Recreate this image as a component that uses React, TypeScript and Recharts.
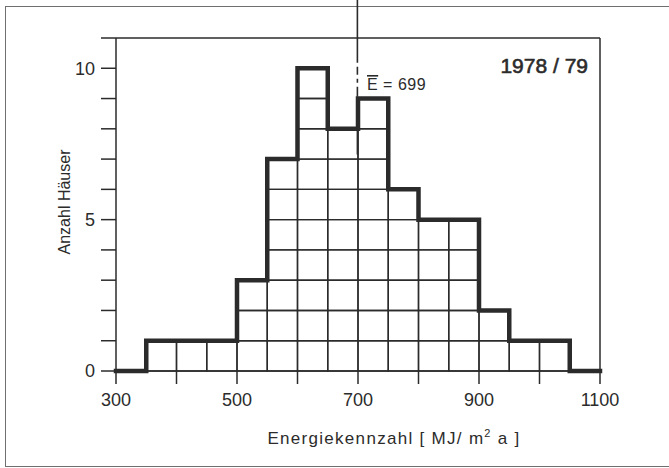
import React from "react";
import {
  ComposedChart,
  Line,
  XAxis,
  YAxis,
  ReferenceArea,
  ReferenceLine,
} from "recharts";

// Histogram: Energiekennzahl of houses, season 1978/79
const binStarts = [300, 350, 400, 450, 500, 550, 600, 650, 700, 750, 800, 850, 900, 950, 1000, 1050];
const counts = [0, 1, 1, 1, 3, 7, 10, 8, 9, 6, 5, 5, 2, 1, 1, 0];
const binWidth = 50;
const xTicks = [300, 400, 500, 600, 700, 800, 900, 1000, 1100];
const xTickLabels = [300, 500, 700, 900, 1100];
const yTicks = [0, 1, 2, 3, 4, 5, 6, 7, 8, 9, 10, 11];
const yTickLabels = [0, 5, 10];
const meanE = 699;
const meanLineBottom = 7.15;
const meanLineTop = 12.3;

const ink = "#2b2b2b";
const font = "'Liberation Sans', Arial, sans-serif";

// step outline: one point per bin left edge plus the closing edge
const outline = [
  ...binStarts.map((x, i) => ({ x, y: counts[i] })),
  { x: binStarts[binStarts.length - 1] + binWidth, y: 0 },
];

// unit cells inside every bar
const cells: { x1: number; x2: number; y1: number; y2: number }[] = [];
binStarts.forEach((x, i) => {
  for (let k = 0; k < counts[i]; k++) {
    cells.push({ x1: x, x2: x + binWidth, y1: k, y2: k + 1 });
  }
});

export default function App() {
  return (
    <div style={{ position: "absolute", left: 0, top: 0, width: 669, height: 468, background: "#fff", overflow: "hidden" }}>
      <div
        style={{
          position: "absolute",
          left: 5,
          top: 6,
          width: 700,
          height: 459,
          border: "1.5px solid #6f6f6f",
        }}
      />
      <ComposedChart
        width={669}
        height={468}
        data={outline}
        margin={{ top: 38, right: 69, bottom: 67, left: 56 }}
        style={{ position: "absolute", left: 0, top: 0 }}
      >
        <XAxis
          dataKey="x"
          type="number"
          domain={[300, 1100]}
          ticks={xTicks}
          tickFormatter={(v: number) => (xTickLabels.includes(v) ? String(v) : "")}
          tickSize={13}
          tickMargin={9}
          height={30}
          axisLine={{ stroke: ink, strokeWidth: 1.5 }}
          tickLine={{ stroke: ink, strokeWidth: 1.5 }}
          tick={{ fill: ink, fontSize: 18, fontFamily: font }}
          interval={0}
        />
        <YAxis
          type="number"
          domain={[0, 11]}
          ticks={yTicks}
          tickFormatter={(v: number) => (yTickLabels.includes(v) ? String(v) : "")}
          tickSize={15}
          tickMargin={6}
          width={60}
          axisLine={{ stroke: ink, strokeWidth: 1.5 }}
          tickLine={{ stroke: ink, strokeWidth: 1.5 }}
          tick={{ fill: ink, fontSize: 18, fontFamily: font }}
          interval={0}
        />

        {cells.map((c, i) => (
          <ReferenceArea
            key={i}
            x1={c.x1}
            x2={c.x2}
            y1={c.y1}
            y2={c.y2}
            fill="none"
            fillOpacity={0}
            stroke={ink}
            strokeWidth={1.4}
          />
        ))}

        <ReferenceLine y={11} stroke={ink} strokeWidth={1.5} />
        <ReferenceLine x={1100} stroke={ink} strokeWidth={1.5} />

        <Line
          type="stepAfter"
          dataKey="y"
          stroke={ink}
          strokeWidth={4.5}
          strokeLinejoin="miter"
          strokeLinecap="square"
          dot={false}
          activeDot={false}
          isAnimationActive={false}
        />

        <ReferenceLine
          segment={[
            { x: meanE, y: meanLineTop },
            { x: meanE, y: meanLineBottom },
          ]}
          ifOverflow="visible"
          stroke={ink}
          strokeWidth={1.6}
          strokeDasharray="64 4 8 4 4 4 10 3 3 3 300"
        />

        <text x={367} y={90} fill={ink} fontSize={16} fontFamily={font} letterSpacing={0.5}>
          <tspan style={{ textDecoration: "overline" }}>E</tspan>
          <tspan> = {meanE}</tspan>
        </text>
        <text
          x={588}
          y={73}
          fill={ink}
          stroke={ink}
          strokeWidth={0.6}
          fontSize={21}
          fontFamily={font}
          textAnchor="end"
        >
          1978 / 79
        </text>
        <text
          x={394}
          y={444}
          fill={ink}
          fontSize={17}
          fontFamily={font}
          textAnchor="middle"
          letterSpacing={1.3}
        >
          <tspan>Energiekennzahl  [ MJ/ m</tspan>
          <tspan fontSize={11} dy={-7}>2</tspan>
          <tspan dy={7}> a ]</tspan>
        </text>
        <text
          x={70}
          y={202}
          fill={ink}
          fontSize={16}
          fontFamily={font}
          textAnchor="middle"
          transform="rotate(-90 70 202)"
        >
          Anzahl Häuser
        </text>
      </ComposedChart>
    </div>
  );
}
